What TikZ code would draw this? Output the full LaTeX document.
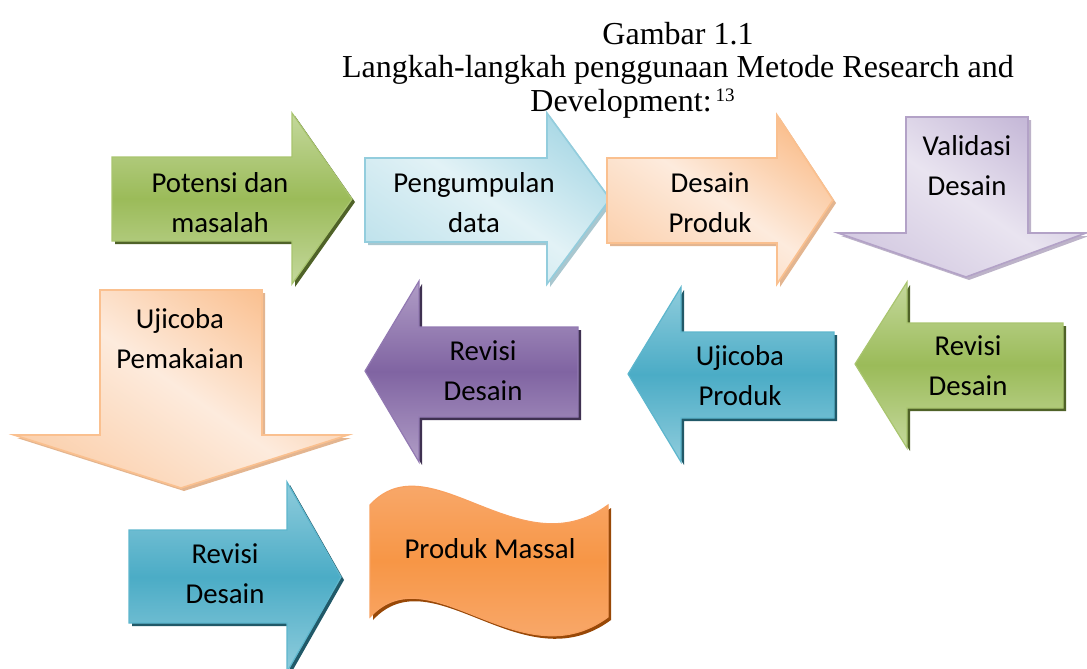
\documentclass[tikz,border=0pt]{standalone}
\usepackage{fontspec}
\setmainfont{Liberation Serif}
\newfontfamily\bodyfont{Carlito}

% theme colours
\definecolor{grn}{HTML}{9BBB59}
\definecolor{grnL}{HTML}{C4D89C}
\definecolor{grnB}{HTML}{A9C56F}
\definecolor{grnS}{HTML}{4F6228}
\definecolor{blu}{HTML}{4BACC6}
\definecolor{bluL}{HTML}{8FCCDC}
\definecolor{bluB}{HTML}{5DB6CD}
\definecolor{bluS}{HTML}{215968}
\definecolor{pur}{HTML}{8064A2}
\definecolor{purL}{HTML}{B09DC6}
\definecolor{purB}{HTML}{9279B2}
\definecolor{purS}{HTML}{3F3151}
\definecolor{org}{HTML}{F79646}
\definecolor{orgL}{HTML}{F9B27E}
\definecolor{orgB}{HTML}{F8A160}
\definecolor{orgS}{HTML}{984807}
\definecolor{aquD}{HTML}{ABD9E6}
\definecolor{aquL}{HTML}{E2F2F6}
\definecolor{aquB}{HTML}{93CDDD}
\definecolor{aquS}{HTML}{A9C7CF}
\definecolor{pchD}{HTML}{FAC090}
\definecolor{pchL}{HTML}{FDEBDD}
\definecolor{pchB}{HTML}{FAC08F}
\definecolor{pchS}{HTML}{E3B590}
\definecolor{lavD}{HTML}{C6B9D8}
\definecolor{lavL}{HTML}{E9E4F0}
\definecolor{lavB}{HTML}{B3A2C7}
\definecolor{lavS}{HTML}{BDB3C9}

\tikzset{
  lbl/.style={font=\bodyfont\fontsize{14.4}{20}\selectfont, align=flush center,
    text width=110pt, inner sep=0pt, anchor=base},
  ttl/.style={font=\fontsize{16}{19}\selectfont, inner sep=0pt, anchor=base},
  intense/.style={top color=#1L, bottom color=#1L, middle color=#1,
    draw=#1B, line width=0.6pt, line join=miter},
  subtle/.style={top color=#1D, bottom color=#1D!60!#1L, middle color=#1L,
    shading angle=-35, draw=#1B, line width=0.8pt, line join=miter},
}

% shadow first, then the shaded outline on top of it
\newcommand{\shadowed}[3]{%
  \fill[#1, shift={(3,3)}] #3 -- cycle;
  \path[#2] #3 -- cycle;
}

\begin{document}
\begin{tikzpicture}[x=0.5pt, y=-0.5pt]
\useasboundingbox (0,0) rectangle (1087,669);

% caption
\node[ttl] (cap1) at (678,44) {Gambar 1.1};
\node[ttl] (cap2) at (678,77.5) {Langkah-langkah penggunaan Metode Research and};
\node[ttl, anchor=base west] (cap3) at (530,111)
  {Development:\kern2pt\raisebox{5pt}{\fontsize{9.5}{10}\selectfont 13}};

% first row, pointing right / down
\shadowed{grnS}{intense=grn}{(112,157) -- (292,157) -- (292,113) -- (352,199) -- (292,284) -- (292,241) -- (112,241)}
\shadowed{aquS}{subtle=aqu}{(365,158) -- (547,158) -- (547,113) -- (610,199) -- (547,284) -- (547,242) -- (365,242)}
\shadowed{pchS}{subtle=pch}{(607,158) -- (777,158) -- (777,115) -- (833,200) -- (777,284) -- (777,243) -- (607,243)}
\shadowed{lavS}{subtle=lav}{(906,117) -- (1028,117) -- (1028,233) -- (1086,233) -- (966,277) -- (838,233) -- (906,233)}

% second row, pointing left / down
\shadowed{pchS}{subtle=pch}{(100,290) -- (262,290) -- (262,435) -- (348,435) -- (181,488) -- (14,435) -- (100,435)}
\shadowed{purS}{intense=pur}{(365,371) -- (419,281) -- (419,327) -- (578,327) -- (578,417) -- (419,417) -- (419,462)}
\shadowed{bluS}{intense=blu}{(628,374) -- (681,287) -- (681,332) -- (834,332) -- (834,418) -- (681,418) -- (681,462)}
\shadowed{grnS}{intense=grn}{(855,364) -- (907,282) -- (907,323) -- (1063,323) -- (1063,408) -- (907,408) -- (907,448)}

% third row
\shadowed{bluS}{intense=blu}{(129,530) -- (287,530) -- (287,482) -- (341,577) -- (287,672) -- (287,623) -- (129,623)}
\shadowed{orgS}{intense=org}{(370,505) .. controls (430,440) and (520,570) .. (608,505) -- (608,617) .. controls (520,682) and (430,552) .. (370,617)}

% labels
\node[lbl] (potensi)   at (220,192) {Potensi dan\\masalah};
\node[lbl] (kumpul)    at (474,192) {Pengumpulan\\data};
\node[lbl] (desain)    at (710,192) {Desain\\Produk};
\node[lbl] (validasi)  at (967,155) {Validasi\\Desain};
\node[lbl] (pakai)     at (180,328) {Ujicoba\\Pemakaian};
\node[lbl] (revisiA)   at (483,360) {Revisi\\Desain};
\node[lbl] (ujiproduk) at (740,365) {Ujicoba\\Produk};
\node[lbl] (revisiB)   at (968,355) {Revisi\\Desain};
\node[lbl] (revisiC)   at (225,563) {Revisi\\Desain};
\node[lbl] (massal)    at (490,558) {Produk Massal};
\end{tikzpicture}
\end{document}
